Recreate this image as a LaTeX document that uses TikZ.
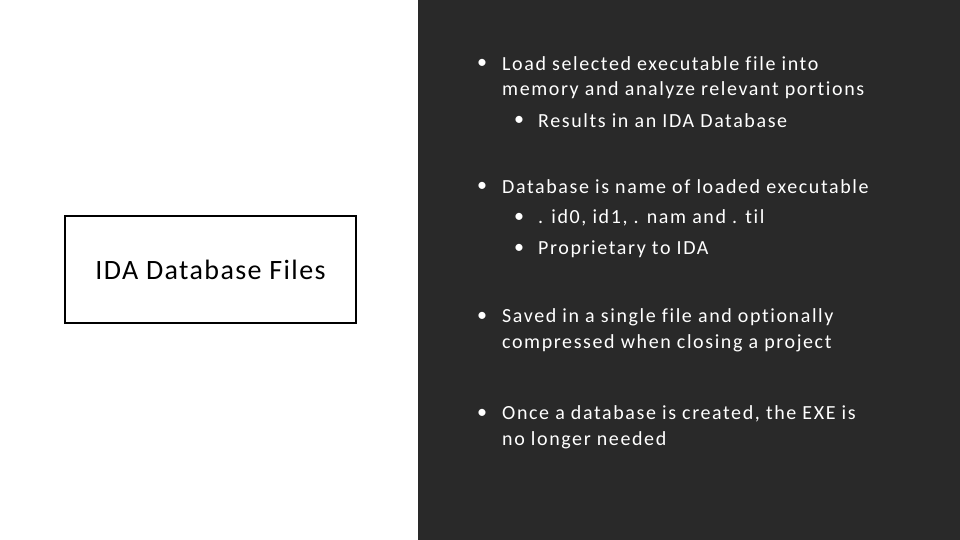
\documentclass[tikz,border=0pt]{standalone}
\usepackage{fontspec}
\setmainfont{Carlito}
\newfontfamily\bodyf[LetterSpace=8,Ligatures=NoCommon]{Carlito}
\newfontfamily\titlef[LetterSpace=5,Ligatures=NoCommon]{Carlito}
\begin{document}
\begin{tikzpicture}[x=1pt,y=-1pt,
  txt/.style={anchor=west,text=white,font=\bodyf\fontsize{20}{20}\selectfont,inner sep=0pt},
  bul/.style={anchor=west,text=white,font=\fontsize{20}{20}\selectfont,inner sep=0pt}]
\useasboundingbox (0,0) rectangle (960,540);
\fill[white] (0,0) rectangle (960,540);
\fill[black!84] (418,0) rectangle (960,540);
\node[draw=black,line width=2.5pt,minimum width=291pt,minimum height=107pt,inner sep=0pt,font=\titlef\fontsize{28}{28}\selectfont] (box) at (210.5,269.5) {IDA Database Files};
\foreach \y/\t [count=\i] in {64/Load selected executable file into,187/Database is name of loaded executable,317/Saved in a single file and optionally,414/{Once a database is created, the EXE is}}{
  \node[bul] (b\i) at (477,\y) {•};
  \node[txt] (t\i) at (502,\y) {\t};
}
\node[txt] (t1b) at (502,90) {memory and analyze relevant portions};
\node[txt] (t3b) at (502,343) {compressed when closing a project};
\node[txt] (t4b) at (502,440) {no longer needed};
\foreach \y/\t [count=\i] in {121/Results in an IDA Database,218/{. id0, id1, . nam and . til},249/Proprietary to IDA}{
  \node[bul] (s\i) at (514,\y) {•};
  \node[txt] (u\i) at (538,\y) {\t};
}
\end{tikzpicture}
\end{document}
